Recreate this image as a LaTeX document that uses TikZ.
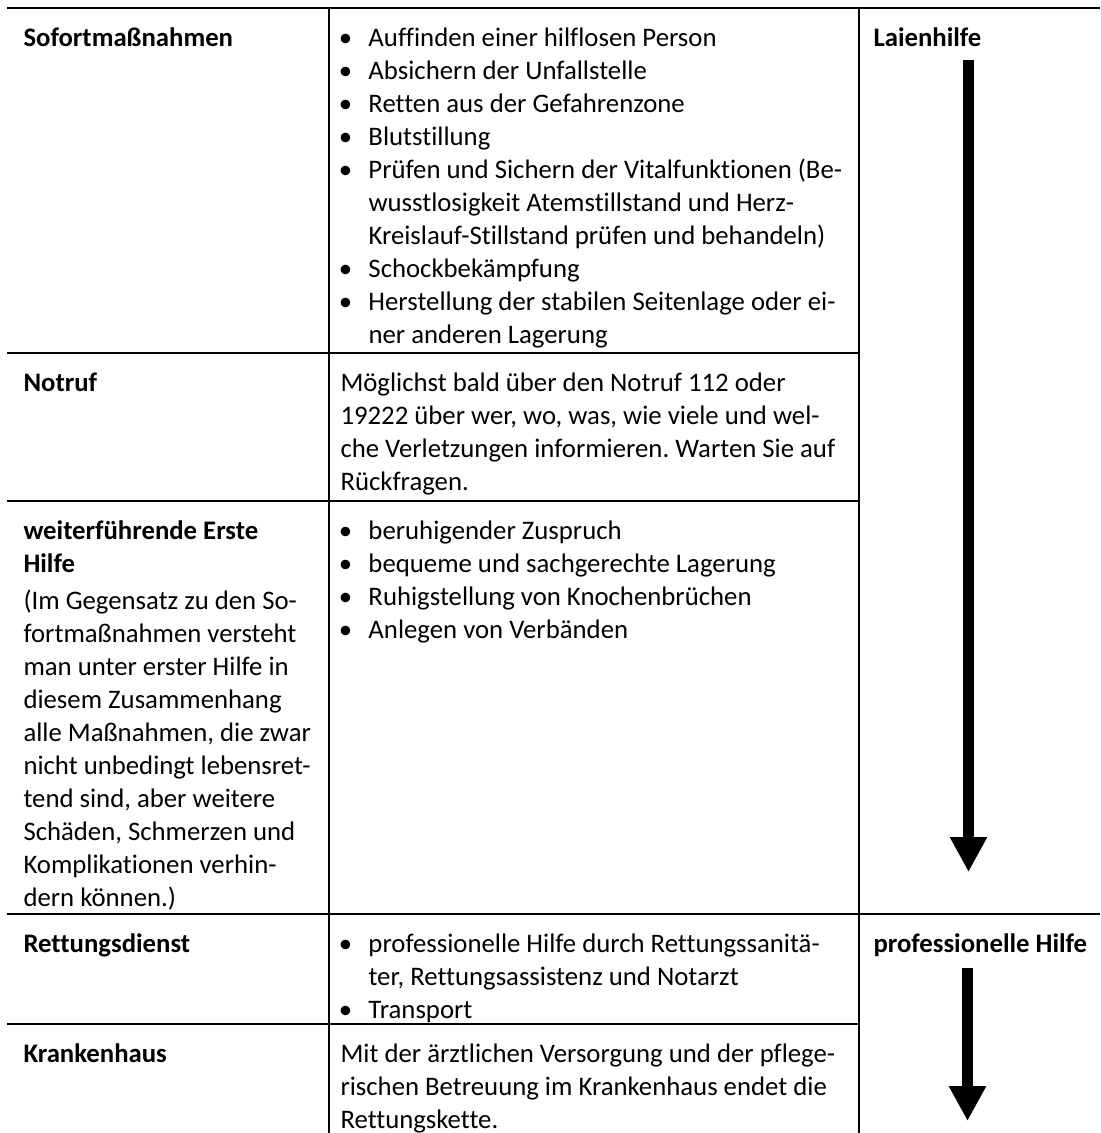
\documentclass[tikz,border=0pt]{standalone}
\usepackage{fontspec}
\setmainfont{Carlito}[Ligatures=CommonOff]
\usetikzlibrary{arrows.meta}
\frenchspacing

\newcommand{\bul}{\llap{\makebox[18.4pt]{\textbullet}}}

\begin{document}
\begin{tikzpicture}[x=0.4pt, y=-0.4pt,
	font=\fontsize{10.7pt}{13.2pt}\selectfont,
	rule/.style={line width=0.8pt},
	cell/.style={anchor=north west, inner sep=0pt, align=left},
	head/.style={cell, font=\fontsize{10.7pt}{13.2pt}\selectfont\bfseries},
	chain/.style={line width=4.4pt, -{Triangle[length=14pt, width=14pt]}}]
	\useasboundingbox (0,0) rectangle (1100,1133);
	% table rules
	\draw[rule] (7,7.5) -- (1100,7.5);
	\draw[rule] (7,353) -- (859,353);
	\draw[rule] (7,501) -- (859,501);
	\draw[rule] (7,914) -- (1100,914);
	\draw[rule] (7,1024) -- (859,1024);
	\draw[rule] (329,7.5) -- (329,1133);
	\draw[rule] (859,7.5) -- (859,1133);
	% first column
	\node (sofort) at (23, 22.4)	[head]	{\strut Sofortmaßnahmen};
	\node (notruf) at (23, 367.4)	[head]	{\strut Notruf};
	\node (weiter) at (23, 515.4)	[cell]	{\strut\textbf{weiterführende Erste}\\\textbf{Hilfe}\\[1.6pt]
		(Im Gegensatz zu den So-\\fortmaßnahmen versteht\\man unter erster Hilfe in\\diesem Zusammenhang\\
		alle Maßnahmen, die zwar\\nicht unbedingt lebensret-\\tend sind, aber weitere\\Schäden, Schmerzen und\\
		Komplikationen verhin-\\dern können.)};
	\node (dienst) at (23, 928.4)	[head]	{\strut Rettungsdienst};
	\node (haus)   at (23, 1038.4)	[head]	{\strut Krankenhaus};
	% second column
	\node (sofortT) at (368, 22.4)	[cell]	{\strut\bul Auffinden einer hilflosen Person\\
		\bul Absichern der Unfallstelle\\
		\bul Retten aus der Gefahrenzone\\
		\bul Blutstillung\\
		\bul Prüfen und Sichern der Vitalfunktionen (Be-\\
		wusstlosigkeit Atemstillstand und Herz-\\
		Kreislauf-Stillstand prüfen und behandeln)\\
		\bul Schockbekämpfung\\
		\bul Herstellung der stabilen Seitenlage oder ei-\\
		ner anderen Lagerung};
	\node (notrufT) at (340, 367.4)	[cell]	{\strut Möglichst bald über den Notruf 112 oder\\
		19222 über wer, wo, was, wie viele und wel-\\
		che Verletzungen informieren. Warten Sie auf\\
		Rückfragen.};
	\node (weiterT) at (368, 515.4)	[cell]	{\strut\bul beruhigender Zuspruch\\
		\bul bequeme und sachgerechte Lagerung\\
		\bul Ruhigstellung von Knochenbrüchen\\
		\bul Anlegen von Verbänden};
	\node (dienstT) at (368, 928.4)	[cell]	{\strut\bul professionelle Hilfe durch Rettungssanitä-\\
		ter, Rettungsassistenz und Notarzt\\
		\bul Transport};
	\node (hausT) at (340, 1038.4)	[cell]	{\strut Mit der ärztlichen Versorgung und der pflege-\\
		rischen Betreuung im Krankenhaus endet die\\
		Rettungskette.};
	% third column
	\node (laien) at (873, 22.4)	[head]	{\strut Laienhilfe};
	\node (profi) at (873, 928.4)	[head]	{\strut professionelle Hilfe};
	\coordinate (laienA) at (968.5, 60);
	\coordinate (laienB) at (968.5, 872);
	\coordinate (profiA) at (967.5, 968);
	\coordinate (profiB) at (967.5, 1121);
	\draw[chain] (laienA) -- (laienB);
	\draw[chain] (profiA) -- (profiB);
\end{tikzpicture}
\end{document}
